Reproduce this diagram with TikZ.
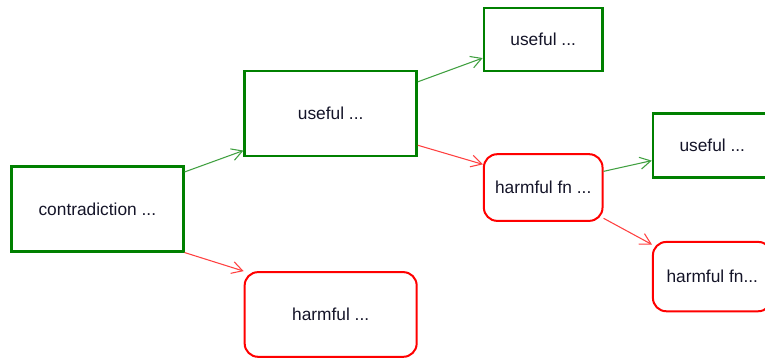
\documentclass[tikz,border=0pt]{standalone}
\usepackage{fontspec}
\setmainfont{Liberation Sans}
\usetikzlibrary{arrows.meta}
\definecolor{mygreen}{RGB}{0,128,0}
\definecolor{myred}{RGB}{255,0,0}
\definecolor{mytext}{RGB}{20,20,40}

\begin{document}
\begin{tikzpicture}[
  font=\fontsize{13}{15}\selectfont, text=mytext,
  goodbox/.style={draw=mygreen, line width=1.8pt, inner sep=0pt, minimum width=129pt, minimum height=63.5pt},
  badbox/.style={draw=myred, line width=1.5pt, rounded corners=10pt, inner sep=0pt, minimum width=129pt, minimum height=63.5pt},
  smallbox/.style={minimum width=89pt, minimum height=48pt},
  goodarrow/.style={draw=mygreen!75, line width=0.8pt, -{Straight Barb[length=8pt,width=9pt]}},
  badarrow/.style={draw=myred!75, line width=0.8pt, -{Straight Barb[length=8pt,width=9pt]}}
]
\useasboundingbox (0,0) rectangle (573.75pt,-270pt);

% Create nodes for the tree
\node[goodbox] (contra) at (73pt,-156.75pt) {contradiction ...};
\node[goodbox, right of=contra, node distance=175pt, yshift=71.6pt] (useful) {useful ...};
\node[badbox, right of=contra, node distance=175pt, yshift=-79.1pt] (harmful) {harmful ...};
\node[goodbox, smallbox, minimum height=47pt, right of=useful, node distance=159.4pt, yshift=55.5pt] (usefulA) {useful ...};
\node[badbox, smallbox, minimum height=50pt, right of=useful, node distance=159.4pt, yshift=-55.5pt] (harmfn) {harmful fn ...};
\node[goodbox, smallbox, right of=harmfn, node distance=126.8pt, yshift=31.5pt] (usefulB) {useful ...};
\node[badbox, smallbox, minimum height=52pt, right of=harmfn, node distance=126.8pt, yshift=-66.8pt] (harmfnB) {harmful fn...};

% Add connections
\draw[goodarrow] (contra.23) -- (useful.203);
\draw[badarrow] (contra.south east) -- (harmful.north west);
\draw[goodarrow] (useful.20) -- (usefulA.197);
\draw[badarrow] (useful.-20) -- (harmfn.159);
\draw[goodarrow] (harmfn.15) -- (usefulB.194);
\draw[badarrow] (harmfn.-27) -- (harmfnB.152);
\end{tikzpicture}
\end{document}
